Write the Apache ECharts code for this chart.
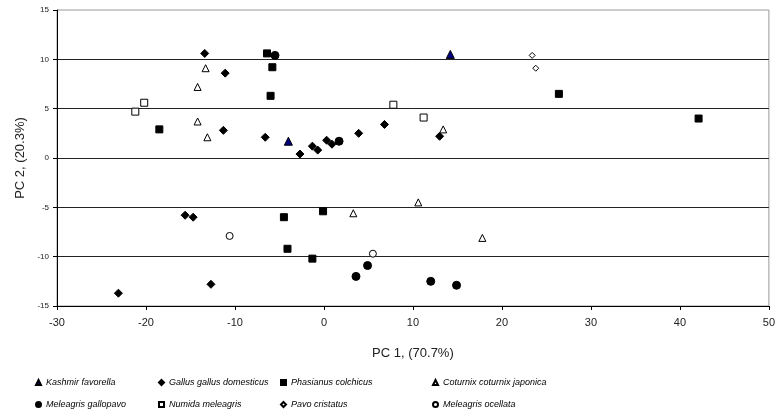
<!DOCTYPE html>
<html>
<head>
<meta charset="utf-8">
<script src="https://cdn.jsdelivr.net/npm/echarts@6/dist/echarts.min.js"></script>
<style>
  html, body { margin: 0; padding: 0; background: #fff; }
  #pca { width: 778px; height: 416px; }
</style>
</head>
<body>
<div id="pca"></div>
<script>
// PC1 / PC2 scores, one array per species
var kashmirFavorella = [[14.2, 10.5], [-4.0, 1.7]];
var gallusGallus = [[-13.4, 10.6], [-11.1, 8.6], [-11.3, 2.8], [-6.6, 2.1], [-2.7, 0.4],
  [-1.3, 1.2], [-0.7, 0.8], [0.3, 1.8], [0.9, 1.4], [3.9, 2.5], [6.8, 3.4], [13.0, 2.2],
  [-15.6, -5.8], [-14.7, -6.0], [-12.7, -12.8], [-23.1, -13.7]];
var phasianusColchicus = [[-6.4, 10.6], [-5.8, 9.2], [-6.0, 6.3], [-18.5, 2.9], [26.4, 6.5],
  [42.1, 4.0], [-4.5, -6.0], [-4.1, -9.2], [-0.1, -5.4], [-1.3, -10.2]];
var coturnixJaponica = [[-13.3, 9.1], [-14.2, 7.2], [-14.2, 3.7], [-13.1, 2.1], [13.4, 2.9],
  [10.6, -4.5], [3.3, -5.6], [17.8, -8.1]];
var meleagrisGallopavo = [[-5.5, 10.4], [1.7, 1.7], [3.6, -12.0], [4.9, -10.9], [12.0, -12.5], [14.9, -12.9]];
var numidaMeleagris = [[-20.2, 5.6], [-21.2, 4.7], [7.8, 5.4], [11.2, 4.1]];
var pavoCristatus = [[23.4, 10.4], [23.8, 9.1]];
var meleagrisOcellata = [[-10.6, -7.9], [5.5, -9.7]];

var xTicks = [-30, 50, 10];
var yTicks = [-15, 15, 5];

var FONT = '"Liberation Sans", Arial, sans-serif';

// name, data, symbol, size, fill, legend position
var speciesList = [
  ['Kashmir favorella', kashmirFavorella, 'triangle', 8, '#000080', 35, 378],
  ['Gallus gallus domesticus', gallusGallus, 'diamond', 8, '#000', 158, 378],
  ['Phasianus colchicus', phasianusColchicus, 'rect', 7, '#000', 280, 378],
  ['Coturnix coturnix japonica', coturnixJaponica, 'triangle', 7, '#fff', 432, 378],
  ['Meleagris gallopavo', meleagrisGallopavo, 'circle', 8, '#000', 35, 400],
  ['Numida meleagris', numidaMeleagris, 'rect', 7, '#fff', 158, 400],
  ['Pavo cristatus', pavoCristatus, 'diamond', 6, '#fff', 280, 400],
  ['Meleagris ocellata', meleagrisOcellata, 'circle', 7, '#fff', 432, 400]
];

var series = [];
var legends = [];
speciesList.forEach(function (s) {
  series.push({
    name: s[0],
    type: 'scatter',
    data: s[1],
    symbol: s[2],
    symbolSize: s[3],
    itemStyle: { color: s[4], borderColor: '#000', borderWidth: 1, opacity: 1 }
  });
  legends.push({
    data: [{ name: s[0], icon: s[2] }],
    left: s[5],
    top: s[6],
    itemWidth: 5,
    itemHeight: 5,
    itemGap: 0,
    padding: 0,
    selectedMode: false,
    textStyle: { fontFamily: FONT, fontSize: 9, fontStyle: 'italic', color: '#000' }
  });
});

var chart = echarts.init(document.getElementById('pca'));
chart.setOption({
  animation: false,
  backgroundColor: '#fff',
  grid: {
    left: 57, right: 9, top: 10, bottom: 110,
    show: true, borderColor: '#999', borderWidth: 1
  },
  legend: legends,
  xAxis: {
    type: 'value',
    min: xTicks[0], max: xTicks[1], interval: xTicks[2],
    name: 'PC 1, (70.7%)',
    nameLocation: 'middle',
    nameGap: 41,
    nameTextStyle: { fontFamily: FONT, fontSize: 13, color: '#222' },
    axisLine: { onZero: false, lineStyle: { color: '#000', width: 1 } },
    axisTick: { show: true, length: 4, lineStyle: { color: '#000' } },
    axisLabel: { margin: 11, fontFamily: FONT, fontSize: 11, color: '#222' },
    splitLine: { show: false }
  },
  yAxis: {
    type: 'value',
    min: yTicks[0], max: yTicks[1], interval: yTicks[2],
    name: 'PC 2, (20.3%)',
    nameLocation: 'middle',
    nameGap: 30,
    nameTextStyle: { fontFamily: FONT, fontSize: 13, color: '#222' },
    axisLine: { onZero: false, lineStyle: { color: '#000', width: 1 } },
    axisTick: { show: true, length: 4, lineStyle: { color: '#000' } },
    axisLabel: { margin: 8, fontFamily: FONT, fontSize: 8, color: '#222' },
    splitLine: { show: true, showMinLine: false, showMaxLine: false, lineStyle: { color: '#222', width: 1 } }
  },
  series: series
});
</script>
</body>
</html>
